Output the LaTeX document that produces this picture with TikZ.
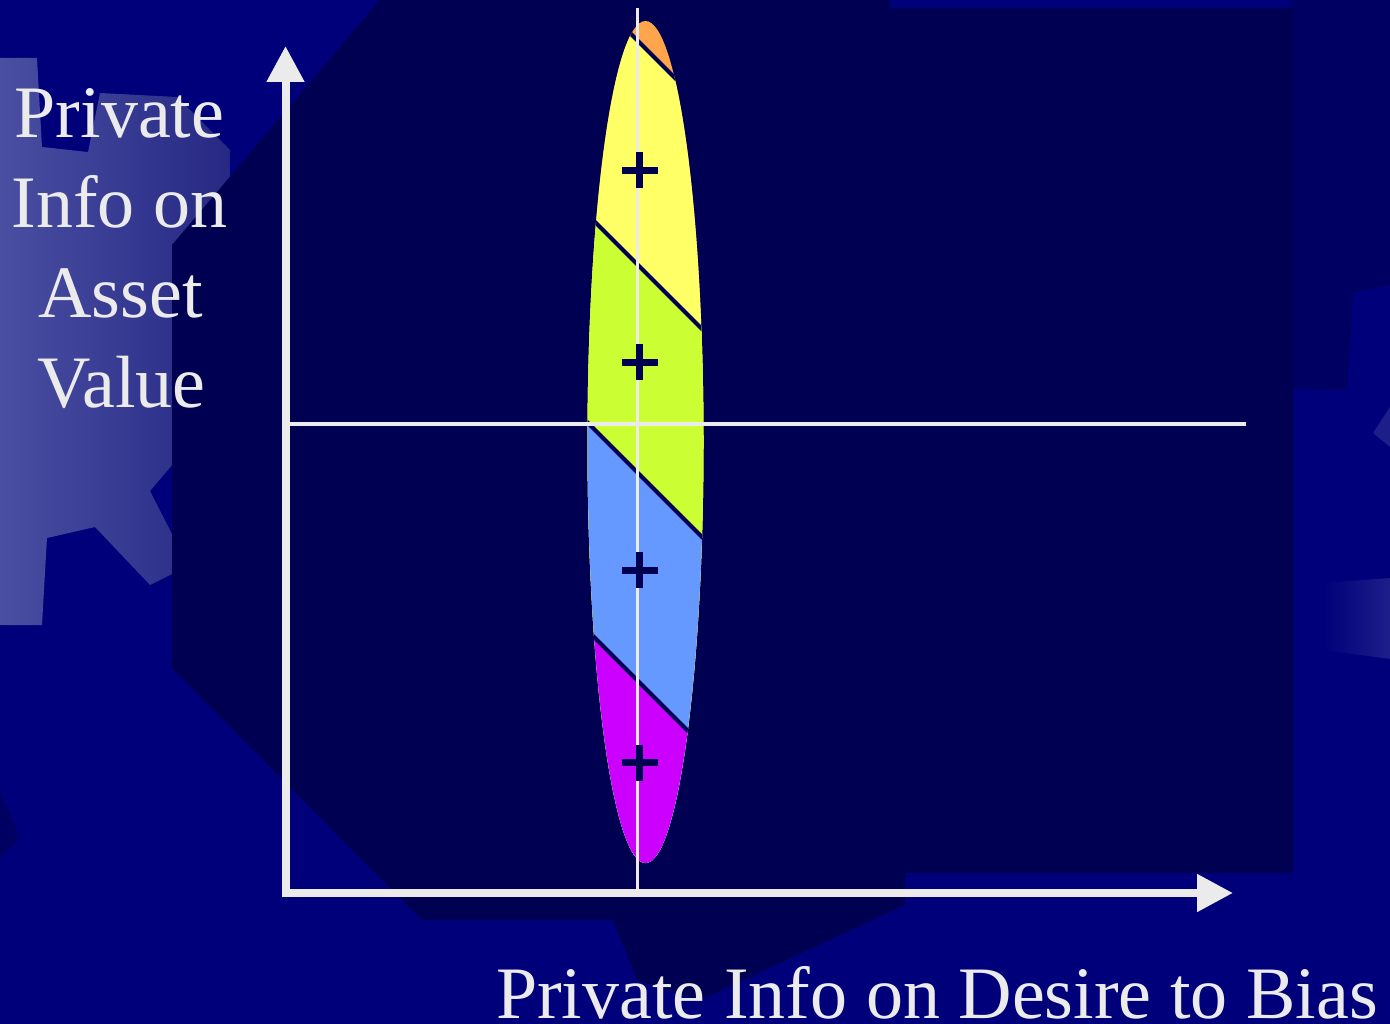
\documentclass[tikz,border=0pt]{standalone}
\usepackage{fontspec}
\setmainfont{Liberation Serif}
\usetikzlibrary{arrows.meta}
\definecolor{bgmid}{HTML}{00007A}
\definecolor{bgdark}{HTML}{000052}
\definecolor{bgdeep}{HTML}{000062}
\definecolor{gearlight}{HTML}{4A4FA2}
\definecolor{gearmid}{HTML}{262883}
\definecolor{gearpale}{HTML}{1E1E8A}
\definecolor{ink}{HTML}{EBEBEB}
\definecolor{bandorange}{HTML}{FFA64D}
\definecolor{bandyellow}{HTML}{FFFF66}
\definecolor{bandgreen}{HTML}{CCFF33}
\definecolor{bandblue}{HTML}{6699FF}
\definecolor{bandpurple}{HTML}{CC00FF}
\begin{document}
\begin{tikzpicture}[x=1pt,y=-1pt,
  axis/.style={draw=ink,line width=8pt,-{Triangle[length=36pt,width=36pt]}},
  guide/.style={draw=ink,line width=3.5pt},
  divider/.style={draw=bgdark,line width=4pt},
  plusmark/.style={draw=bgdark,line width=7pt},
  axistext/.style={text=ink,font=\fontsize{74}{89.7}\selectfont,inner sep=0pt}]

% background
\fill[bgmid] (0,0) rectangle (1390,1024);
\useasboundingbox (0,0) rectangle (1390,1024);

% left gear (lighter, gradient)
\shade[left color=gearlight,right color=gearmid]
  (0,58) -- (37,58) -- (42,147) -- (88,152) -- (100,93) -- (177,97)
  -- (230,150) -- (230,440) -- (173,464) -- (150,491) -- (173,536)
  -- (200,560) -- (150,585) -- (95,527) -- (47,538) -- (42,625) -- (0,625) -- cycle;

% darker patches
\fill[bgdeep] (0,790) -- (20,838) -- (0,858) -- cycle;
\fill[bgdeep] (1293,0) -- (1390,0) -- (1390,285) -- (1353,293) -- (1347,390) -- (1293,388) -- cycle;

% right gear details
\shade[left color=bgmid,right color=gearpale] (1323,583) -- (1390,578) -- (1390,659) -- (1323,650) -- cycle;
\fill[gearpale] (1390,407) -- (1373,433) -- (1390,447) -- cycle;

% dark inner panel
\fill[bgdark] (380,0) -- (890,0) -- (890,8) -- (1293,8) -- (1293,873) -- (905,873)
  -- (905,905) -- (700,1000) -- (637,980) -- (613,920) -- (422,920)
  -- (172,668) -- (172,245) -- cycle;

% ellipse with bands
\begin{scope}
  \clip (645.5,442) ellipse [x radius=58pt, y radius=421pt];
  \fill[bandorange] (560,0) rectangle (740,900);
  \fill[bandyellow] (560,-37) -- (740,143) -- (740,900) -- (560,900) -- cycle;
  \fill[bandgreen] (560,187) -- (740,367) -- (740,900) -- (560,900) -- cycle;
  \fill[bandblue] (560,395) -- (740,575) -- (740,900) -- (560,900) -- cycle;
  \fill[bandpurple] (560,603) -- (740,783) -- (740,900) -- (560,900) -- cycle;
  \draw[divider] (560,-37) -- (740,143);
  \draw[divider] (560,187) -- (740,367);
  \draw[divider] (560,395) -- (740,575);
  \draw[divider] (560,603) -- (740,783);
\end{scope}

% guide lines
\coordinate (hl) at (288,424);
\coordinate (hr) at (1246,424);
\coordinate (vt) at (637.3,8);
\coordinate (vb) at (637.3,889);
\draw[guide] (hl) -- (hr);
\draw[guide] (vt) -- (vb);

% plus marks
\foreach \py in {170.5,362.3,570,762.5}{
  \draw[plusmark] (621.5,\py) -- (657.5,\py) (639.5,\py-18) -- (639.5,\py+18);
}

% axes
\coordinate (yfoot) at (285.5,897);
\coordinate (ytip) at (285.5,46);
\coordinate (xfoot) at (281.5,893);
\coordinate (xtip) at (1233,893);
\draw[axis] (yfoot) -- (ytip);
\draw[axis] (xfoot) -- (xtip);

% labels
\node[axistext,anchor=base] (yl1) at (119.5,138) {Private};
\node[axistext,anchor=base] (yl2) at (119.5,228) {Info on};
\node[axistext,anchor=base] (yl3) at (120.5,318) {Asset};
\node[axistext,anchor=base] (yl4) at (121.5,407) {Value};
\node[axistext,anchor=base west] (xlabel) at (496,1018) {Private Info on Desire to Bias};
\end{tikzpicture}
\end{document}
